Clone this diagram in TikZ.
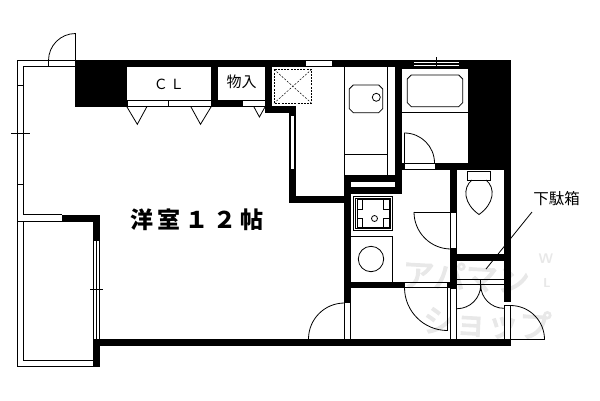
\documentclass[tikz,border=0pt]{standalone}
\usepackage{fontspec}
\newfontfamily\cjk{Noto Sans CJK JP}
\newfontfamily\cjkwide[LetterSpace=20]{Noto Sans CJK JP}
\newfontfamily\cjkmark[FakeBold=4]{Noto Sans CJK JP}
\usepackage{tikz}

\begin{document}
\begin{tikzpicture}[x=1pt,y=-1pt
	,line width=.8pt
	,font=\cjk]
  \tikzstyle{wall}=[fill=black,draw=none]
  \tikzstyle{glass}=[fill=white,draw=black,line width=.7pt]
  \tikzstyle{roomtext}=[inner sep=0pt,text=black]
  \tikzstyle{shoptext}=[inner sep=0pt,text=black!9]
  \useasboundingbox (0,0) rectangle (600,400);
  \fill[white] (0,0) rectangle (600,400);

  % shop mark, under everything
  \node[shoptext,rotate=-3,font=\cjkmark\fontsize{32}{32}\selectfont](markA) at (466,277) {アパマン};
  \node[shoptext,rotate=-3,font=\cjkmark\fontsize{32}{32}\selectfont](markB) at (487,323) {ショップ};
  \node[shoptext,font=\sffamily\bfseries\fontsize{14}{14}\selectfont](markW) at (546,259) {W};
  \node[shoptext,font=\sffamily\bfseries\fontsize{13}{13}\selectfont](markL) at (547,283) {L};

  % labels
  \node[roomtext,font=\cjk\fontsize{14}{14}\selectfont](cl) at (169,84) {Ｃ\,Ｌ};
  \node[roomtext,font=\cjk\fontsize{15}{15}\selectfont](store) at (241.5,82) {物入};
  \node[roomtext,font=\cjkwide\bfseries\fontsize{23}{23}\selectfont](room) at (197,220) {洋室１２帖};
  \node[roomtext,font=\cjk\fontsize{15.5}{15.5}\selectfont](shoes) at (556.5,199) {下駄箱};

  % leader goes behind the walls
  \coordinate (shoesstart) at (532,212);
  \coordinate (shoesend) at (486,269);
  \draw (shoesstart) -- (shoesend);

  % outer walls
  \fill[wall] (75,60) rectangle (510.7,66.7);
  \fill[wall] (75,60) rectangle (127,106.7);
  \fill[wall] (468.3,60) rectangle (510.7,170);
  \fill[wall] (504.3,163) rectangle (510.7,301.7);
  \fill[wall] (93,339) rectangle (510.7,345.7);
  \fill[wall] (93,339) rectangle (100,366.7);
  \fill[wall] (62,215) rectangle (100,221.5);
  \fill[wall] (93,215) rectangle (100,240);
  % closet and shaft walls
  \fill[wall] (211,60) rectangle (218,106.7);
  \fill[wall] (211,100) rectangle (242,106.7);
  \fill[wall] (265,60) rectangle (271.7,112.7);
  \fill[wall] (265,106.3) rectangle (295.7,112.7);
  \fill[wall] (289,106.3) rectangle (295.7,203);
  \fill[wall] (289,196.3) rectangle (350.7,203);
  % wet room walls
  \fill[wall] (344.3,175) rectangle (401.7,181.7);
  \fill[wall] (344.3,187) rectangle (401.7,193.7);
  \fill[wall] (395,60) rectangle (401.7,193.7);
  \fill[wall] (344.3,175) rectangle (350.7,302.7);
  \fill[wall] (344.3,281.7) rectangle (405,287.7);
  \fill[wall] (402,163) rectangle (510.7,170);
  \fill[wall] (450,163) rectangle (456.7,287.7);
  \fill[wall] (447.3,281.7) rectangle (456.7,287.7);
  \fill[wall] (450,254.3) rectangle (510.7,260.7);

  % wall openings
  \fill[white] (306,61) rectangle (332.3,66);
  \fill[white] (290.7,116) rectangle (294.3,169);
  \fill[white] (351,181.7) rectangle (395,187);
  \fill[white] (405,164) rectangle (435,169);
  \draw[glass] (127,100.5) rectangle (168.5,106.2);
  \draw[glass] (168.5,100.5) rectangle (211,106.2);
  \draw[glass] (242,100.5) rectangle (265,106.2);
  \draw[glass] (450.8,212) rectangle (456.5,248);
  \draw[glass] (450.8,288) rectangle (456.7,339);
  \draw[glass] (344.7,302.7) rectangle (350.7,339);
  \draw[glass] (504.5,305.5) rectangle (510.5,339);

  % closet doors
  \draw (127,107) -- (137.3,124.3) -- (146.7,107);
  \draw (191,107) -- (200.5,124.3) -- (211,107);
  \draw (254,107) -- (259.4,117) -- (265,107);

  % balcony
  \draw (75,60.5) -- (17.5,60.5) -- (17.5,366.5) -- (93,366.5);
  \draw (75,66.5) -- (23.5,66.5) -- (23.5,214.7) -- (62,214.7);
  \draw (17.5,221.3) -- (62,221.3);
  \draw (23.5,221.3) -- (23.5,360.3) -- (93,360.3);
  \draw (17.5,85.5) -- (23.5,85.5);
  \draw (17.5,184) -- (23.5,184);
  \draw (11,133) -- (30,133);
  % balcony door
  \draw (75.5,60) -- (75.5,33.5) arc (-90:-180:27);
  \draw (48,60.5) -- (48,66.5);
  % sliding window
  \draw (93.5,240) -- (93.5,339);
  \draw (96.5,240) -- (96.5,339);
  \draw (99.5,240) -- (99.5,339);
  \draw (93.5,240) -- (99.5,240);
  \draw (90,289.3) -- (103,289.3);

  % shaft
  \draw[line width=.7pt,dash pattern=on 2pt off 1.2pt] (274,69.3) rectangle (311.7,103.3);
  \draw[line width=.5pt,dash pattern=on 2pt off 1.5pt] (274,69.3) -- (311.7,103.3);
  \draw[line width=.5pt,dash pattern=on 2pt off 1.5pt] (311.7,69.3) -- (274,103.3);

  % kitchen counter
  \draw (344.5,66.7) -- (344.5,175);
  \draw (387.5,66.7) -- (387.5,175);
  \draw (344.5,154.3) -- (387.5,154.3);
  \draw (353.3,85) -- (378.7,85) -- (382.7,89) -- (382.7,108.7) -- (378.7,112.7)
    -- (353.3,112.7) -- (349.3,108.7) -- (349.3,89) -- cycle;
  \draw (376.3,97.3) circle (4);

  % bath
  \fill[white] (414,61) rectangle (459.3,66.7);
  \draw[line width=.7pt] (414,61.2) -- (459.3,61.2);
  \draw[line width=.7pt] (414,63) -- (459.3,63);
  \draw[line width=.7pt] (414,64.8) -- (459.3,64.8);
  \draw[line width=.7pt] (414,66.5) -- (459.3,66.5);
  \draw (436.5,57) -- (436.5,67);
  \draw[line width=1.6pt] (402,68) -- (468.3,68);
  \draw (411.3,75) -- (458.7,75) -- (462.7,79) -- (462.7,102.7) -- (458.7,106.7)
    -- (411.3,106.7) -- (407.3,102.7) -- (407.3,79) -- cycle;
  \draw (402,112.3) -- (468.3,112.3);
  % bath door
  \draw (404.5,163) -- (404.5,133) arc (-90:0:30);

  % toilet
  \draw (467.3,171) rectangle (490.7,180);
  \draw (472,180) .. controls (462,188) and (464,204) .. (479,214.5)
    .. controls (494,204) and (496,188) .. (486,180);

  % stove
  \draw (353.3,196) rectangle (392.7,230.7);
  \draw (355.3,198) rectangle (390.7,228.7);
  \draw (357,199.3) rectangle (389.3,227.7);
  \draw (357,209.3) -- (362.3,209.3) -- (362.3,199.3);
  \draw (357,218.3) -- (362.3,218.3) -- (362.3,227.7);
  \draw (389.3,209.3) -- (383.3,209.3) -- (383.3,199.3);
  \draw (389.3,218.3) -- (383.3,218.3) -- (383.3,227.7);
  \draw (374.5,218.5) circle (3);

  % washer
  \draw (351,236.3) -- (392.5,236.3) -- (392.5,282);
  \draw (371,259) circle (12.7);

  % doors
  \draw (414,212) -- (451,212);
  \draw (414,212) arc (180:90:37);
  \draw (344.5,303) arc (-90:-180:36);
  \draw (405,282) -- (447.5,282);
  \draw (405,287.5) -- (447.5,287.5);
  \draw (447.5,282) -- (447.5,330.5);
  \draw (404.5,287.5) arc (180:90:43);

  % shoe box
  \draw (457,279) -- (504.3,279);
  \draw (457,284.7) -- (504.3,284.7);
  \draw (480.7,279) -- (480.7,291);
  \draw (480.7,285) arc (0:90:23.7);
  \draw (480.7,285) arc (180:90:23.3);
  % front door
  \draw (510.5,305.5) arc (-90:0:34);
  \draw (510.5,339.5) -- (544.5,339.5);
\end{tikzpicture}
\end{document}
